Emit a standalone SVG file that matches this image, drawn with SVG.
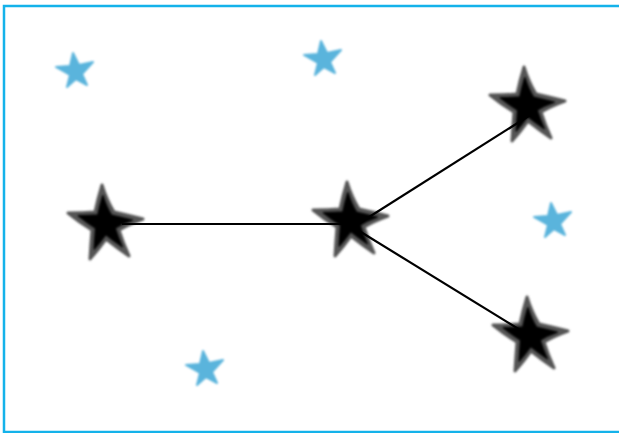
<svg xmlns="http://www.w3.org/2000/svg" width="619" height="433" viewBox="0 0 619 433">
<style>
.edge{stroke:#000;stroke-width:2.2;fill:none}
.outer{fill:#555;stroke:#555;stroke-width:3;stroke-linejoin:round;filter:url(#soft)}
.inner{fill:#000;stroke:#000;stroke-width:2;stroke-linejoin:round;filter:url(#soft)}
.blue{fill:#5ab4dc;stroke:#5ab4dc;stroke-width:2;stroke-linejoin:round;filter:url(#soft2)}
</style>
<defs>
<filter id="soft" x="-20%" y="-20%" width="140%" height="140%"><feGaussianBlur stdDeviation="1.3"/></filter>
<filter id="soft2" x="-20%" y="-20%" width="140%" height="140%"><feGaussianBlur stdDeviation="0.9"/></filter>
<path id="star" d="M-3,-38 Q2,-22 9,-11 Q22,-8 38,-4 Q24,1 14,7 Q18,20 24,33 Q11,24 1,16 Q-7,27 -15,36 Q-14,20 -13,7 Q-26,-1 -37,-10 Q-22,-10 -10,-11 Q-7,-25 -3,-38 Z"/>
<path id="bstar" d="M-2,-17 L4,-5 L18,-8 L7,4 L12,15 L1,9 L-8,17 L-5,5 L-19,-3 L-5,-4 Z"/>
</defs>
<rect x="4" y="6" width="620" height="426" fill="none" stroke="#14b2ea" stroke-width="2.5"/>
<g id="background-stars">
<use href="#bstar" class="blue" x="75" y="70"/>
<use href="#bstar" class="blue" x="323" y="58"/>
<use href="#bstar" class="blue" x="553" y="220"/>
<use href="#bstar" class="blue" x="205" y="368"/>
</g>
<g id="star-left" transform="translate(105,223)">
<use href="#star" class="outer"/>
<use href="#star" class="inner" transform="scale(0.72)"/>
</g>
<g id="star-center" transform="translate(350,220)">
<use href="#star" class="outer"/>
<use href="#star" class="inner" transform="scale(0.72)"/>
</g>
<g id="star-top-right" transform="translate(527,105)">
<use href="#star" class="outer"/>
<use href="#star" class="inner" transform="scale(0.72)"/>
</g>
<g id="star-bottom-right" transform="translate(530,335)">
<use href="#star" class="outer"/>
<use href="#star" class="inner" transform="scale(0.72)"/>
</g>
<g id="connectors">
<line class="edge" x1="122" y1="224" x2="354" y2="224"/>
<line class="edge" x1="358" y1="224" x2="535" y2="112"/>
<line class="edge" x1="356" y1="229" x2="525" y2="333"/>
</g>
</svg>
